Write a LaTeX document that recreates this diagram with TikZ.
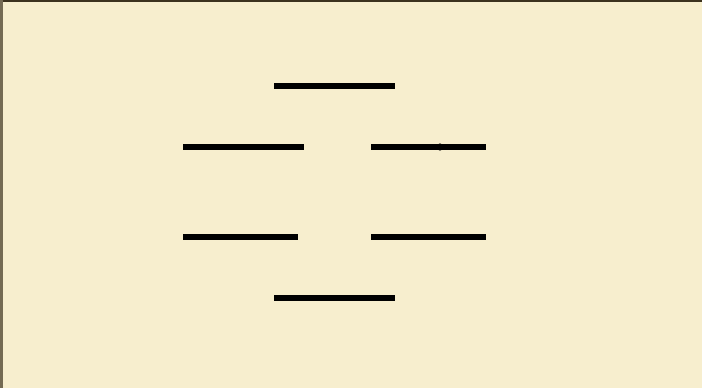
\documentclass[tikz,border=0pt]{standalone}
\definecolor{paper}{RGB}{247,238,206}
\definecolor{frame}{RGB}{60,50,30}
\begin{document}
\begin{tikzpicture}[x=1pt, y=-1pt, line width=6pt]
    % Background
    \fill[paper] (0,0) rectangle (702,388);
    \useasboundingbox (0,0) rectangle (702,388);
    \draw[frame, line width=1.5pt] (0,0.75) -- (702,0.75);
    \draw[frame!70!paper, line width=2.5pt] (1.25,0) -- (1.25,388);
    
    % Top
    \draw (274,86) -- (395,86);
    
    % Upper pair
    \draw (183,146.5) -- (304,146.5);
    \draw (371,147) -- (486,147);
    \fill (440,147) circle (3.6pt);
    
    % Lower pair
    \draw (183,237) -- (298,237);
    \draw (371,237) -- (486,237);
    
    % Bottom
    \draw (274,297.5) -- (395,297.5);
\end{tikzpicture}
\end{document}
